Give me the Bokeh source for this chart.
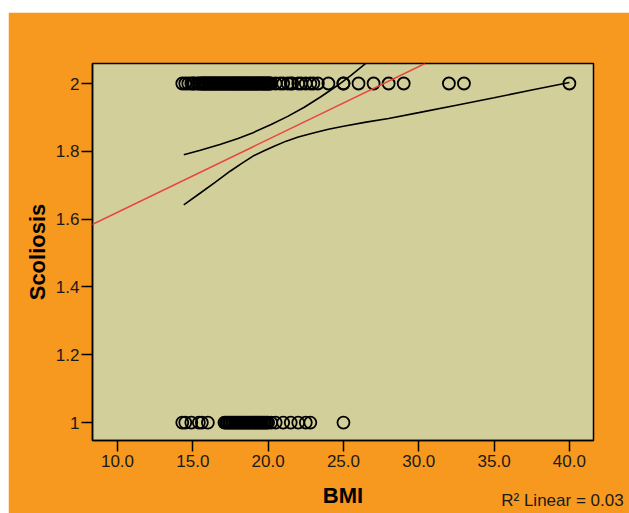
from bokeh.plotting import figure
from bokeh.models import Range1d, FixedTicker, PrintfTickFormatter, CustomJSTickFormatter, Slope, Label
from bokeh.embed import file_html
from bokeh.resources import INLINE

# ---- data ----
bmi_scoliosis2 = [14.3, 14.5, 14.7, 14.9, 15.0, 15.1, 15.3, 15.4, 15.5, 15.6, 15.65, 15.7, 15.8,
                  15.85, 15.9, 16.0, 16.05, 16.1, 16.2, 16.25, 16.3, 16.4, 16.45, 16.5, 16.6,
                  16.65, 16.7, 16.8, 16.85, 16.9, 17.0, 17.05, 17.1, 17.2, 17.25, 17.3, 17.4,
                  17.45, 17.5, 17.6, 17.65, 17.7, 17.8, 17.85, 17.9, 18.0, 18.05, 18.1, 18.2,
                  18.25, 18.3, 18.4, 18.45, 18.5, 18.6, 18.65, 18.7, 18.8, 18.85, 18.9, 19.0,
                  19.05, 19.1, 19.2, 19.25, 19.3, 19.4, 19.45, 19.5, 19.6, 19.65, 19.7, 19.8,
                  19.85, 19.9, 20.0, 20.05, 20.1, 20.2, 20.5, 20.8, 21.0, 21.3, 21.5, 21.6,
                  22.0, 22.2, 22.5, 22.8, 23.0, 23.3, 24.0, 25.0, 25.0, 26.0, 27.0, 28.0,
                  29.0, 32.0, 33.0, 40.0]
bmi_scoliosis1 = [14.3, 14.5, 14.9, 15.4, 15.6, 16.0, 17.1, 17.2, 17.3, 17.4, 17.5, 17.6, 17.7,
                  17.8, 17.9, 18.0, 18.1, 18.2, 18.3, 18.4, 18.5, 18.6, 18.7, 18.8, 18.9,
                  19.0, 19.1, 19.2, 19.3, 19.4, 19.5, 19.6, 19.7, 19.8, 19.9, 20.0, 20.2,
                  20.5, 21.0, 21.5, 22.0, 22.5, 22.8, 25.0]

ci_upper_bmi = [14.4, 15.5, 16.8, 18.0, 19.0, 20.2, 21.3, 22.4, 23.5, 24.6, 25.5, 26.5]
ci_upper_val = [1.790, 1.803, 1.820, 1.838, 1.855, 1.879, 1.903, 1.930, 1.961, 1.994, 2.024, 2.060]
ci_lower_bmi = [14.4, 15.5, 16.5, 17.5, 18.3, 19.0, 19.7, 20.4, 21.2, 22.0, 23.0, 24.0,
                25.0, 26.5, 28.0, 30.0, 32.5, 35.0, 37.5, 40.0]
ci_lower_val = [1.642, 1.677, 1.709, 1.742, 1.766, 1.786, 1.801, 1.815, 1.830, 1.842, 1.854, 1.865,
                1.874, 1.886, 1.897, 1.914, 1.936, 1.958, 1.981, 2.003]

fit_slope = 0.0215
fit_intercept = 1.405
r2_text = "R² Linear = 0.03"

x_ticks = [10, 15, 20, 25, 30, 35, 40]
y_ticks = [1, 1.2, 1.4, 1.6, 1.8, 2]

ORANGE = "#F7981F"
PLOTBG = "#D2CF9B"
FONT = "Liberation Sans"

p = figure(width=621, height=501, output_backend="svg", toolbar_location=None,
           x_range=Range1d(8.34, 41.6), y_range=Range1d(0.947, 2.059),
           min_border_left=84, min_border_right=36, min_border_top=51, min_border_bottom=73)
p.margin = (12, 0, 0, 8)
p.background_fill_color = PLOTBG
p.border_fill_color = ORANGE
p.outline_line_color = "black"
p.outline_line_width = 1.5
p.xgrid.visible = False
p.ygrid.visible = False

for ax in (p.xaxis[0], p.yaxis[0]):
    ax.major_tick_out = 11
    ax.major_tick_in = 0
    ax.minor_tick_out = 0
    ax.minor_tick_in = 0
    ax.axis_line_color = "black"
    ax.axis_line_width = 1.5
    ax.major_tick_line_width = 1.5
    ax.major_label_text_font = FONT
    ax.major_label_text_font_size = "17px"
    ax.major_label_text_color = "#1a1a1a"
    ax.axis_label_text_font = FONT
    ax.axis_label_text_font_style = "bold"
    ax.axis_label_text_font_size = "22px"
    ax.axis_label_text_color = "black"

p.xaxis.ticker = FixedTicker(ticks=x_ticks)
p.xaxis.formatter = PrintfTickFormatter(format="%.1f")
p.xaxis.major_label_standoff = 3
p.xaxis.axis_label = "BMI"
p.xaxis.axis_label_standoff = 13
p.yaxis.ticker = FixedTicker(ticks=y_ticks)
p.yaxis.formatter = CustomJSTickFormatter(code="return String(Math.round(tick*10)/10);")
p.yaxis.major_label_standoff = 2
p.yaxis.axis_label = "Scoliosis"
p.yaxis.axis_label_standoff = 3

# fit line
p.add_layout(Slope(gradient=fit_slope, y_intercept=fit_intercept, line_color="#E8453C", line_width=1.5))
# confidence curves
p.line(ci_upper_bmi, ci_upper_val, line_color="black", line_width=1.6)
p.line(ci_lower_bmi, ci_lower_val, line_color="black", line_width=1.6)
# points
p.scatter(bmi_scoliosis2, [2] * len(bmi_scoliosis2), marker="circle", size=12,
          fill_color=None, line_color="black", line_width=1.8)
p.scatter(bmi_scoliosis1, [1] * len(bmi_scoliosis1), marker="circle", size=12,
          fill_color=None, line_color="black", line_width=1.8)

# R² note: placed in a side panel so it is not clipped to the frame
p.add_layout(Label(x=43.6, y=0.770, x_units="data", y_units="data", text=r2_text,
                   text_font=FONT, text_font_size="17px",
                   text_align="right", text_baseline="middle", text_color="#1a1a1a"), "above")

open("out.html", "w").write(file_html(p, INLINE))
